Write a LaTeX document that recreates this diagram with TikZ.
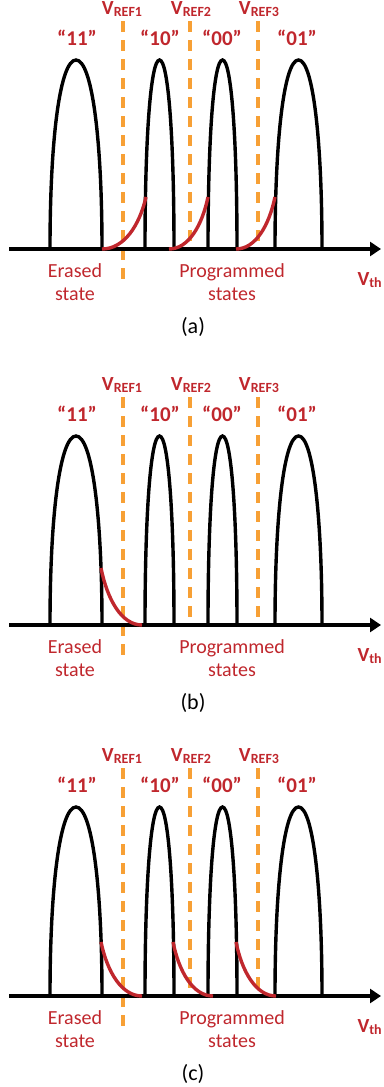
\documentclass[tikz,border=0pt]{standalone}
\usepackage{fontspec}
\setmainfont{Carlito}
\usetikzlibrary{arrows.meta}
\definecolor{flashred}{HTML}{C0272D}
\definecolor{vreforange}{HTML}{F7A035}

\newcommand{\lowsub}[1]{\raisebox{-2pt}{\fontsize{14}{14}\selectfont #1}}
% one V_th distribution, from left base to right base
\newcommand{\vtpeak}[2]{%
  \draw[distcurve] (#1,0) .. controls (#1,113) and ({#1+0.2*(#2-#1)},189) .. ({(#1+#2)/2},189)
    .. controls ({#2-0.2*(#2-#1)},189) and (#2,113) .. (#2,0);}

\tikzset{
  distcurve/.style={line width=3.4pt, black},
  tailcurve/.style={line width=3.4pt, flashred},
  vrefline/.style={line width=3.4pt, vreforange, dash pattern=on 11pt off 8pt},
  statelabel/.style={font=\bfseries\fontsize{21}{21}\selectfont, text=flashred, anchor=base},
  reflabel/.style={font=\bfseries\fontsize{20}{20}\selectfont, text=flashred, anchor=base},
  regionlabel/.style={font=\fontsize{20}{23}\selectfont, text=flashred, align=center, anchor=base},
  axisline/.style={line width=3.4pt, -{Triangle[length=11pt,width=14pt]}},
}

\begin{document}
\begin{tikzpicture}[x=1pt, y=1pt]
  \useasboundingbox (0,0) rectangle (383,-1087);

  % the three panels share the same layout
  \foreach \ay/\pn in {249/a, 625/b, 996/c} {
    \begin{scope}[yshift=-\ay pt]
      \draw[vrefline] (123,228) -- (123,-32);
      \draw[vrefline] (190,228) -- (190,0);
      \draw[vrefline] (258,228) -- (258,0);
      \vtpeak{50}{102}
      \vtpeak{145}{174}
      \vtpeak{208}{237}
      \vtpeak{275}{322}
      \draw[axisline] (9,0) -- (381,0);
      \node[reflabel] (vref1-\pn) at (122,235) {V\lowsub{REF1}};
      \node[reflabel] (vref2-\pn) at (191,235) {V\lowsub{REF2}};
      \node[reflabel] (vref3-\pn) at (259,235) {V\lowsub{REF3}};
      \node[statelabel] (s11-\pn) at (77,204) {“11”};
      \node[statelabel] (s10-\pn) at (160,204) {“10”};
      \node[statelabel] (s00-\pn) at (222,204) {“00”};
      \node[statelabel] (s01-\pn) at (297,204) {“01”};
      \node[regionlabel] (erased-\pn) at (75,-51) {Erased\\state};
      \node[regionlabel] (prog-\pn) at (232,-51) {Programmed\\states};
      \node[reflabel, anchor=base west] (vth-\pn) at (354,-36) {V\lowsub{th}};
      \node[font=\fontsize{22}{22}\selectfont] (cap-\pn) at (193,-78) {(\pn)};
    \end{scope}
  }

  % (a) tails of the programmed states
  \begin{scope}[yshift=-249pt]
    \draw[tailcurve] (102,0) .. controls (124,0) and (139.4,23.4) .. (146,52);
    \draw[tailcurve] (169,0) .. controls (188.5,0) and (202,23.4) .. (208,52);
    \draw[tailcurve] (236,0) .. controls (255.5,0) and (269,23.4) .. (275,52);
  \end{scope}

  % (b) tail of the erased state
  \begin{scope}[yshift=-625pt]
    \draw[tailcurve] (101,57) .. controls (107.2,25.7) and (121.5,0) .. (142,0);
  \end{scope}

  % (c) tails of all states
  \begin{scope}[yshift=-996pt]
    \draw[tailcurve] (101,54) .. controls (107.2,24.3) and (121.5,0) .. (142,0);
    \draw[tailcurve] (173,54) .. controls (179,24.3) and (193,0) .. (213,0);
    \draw[tailcurve] (236,54) .. controls (242,24.3) and (256,0) .. (276,0);
  \end{scope}
\end{tikzpicture}
\end{document}
